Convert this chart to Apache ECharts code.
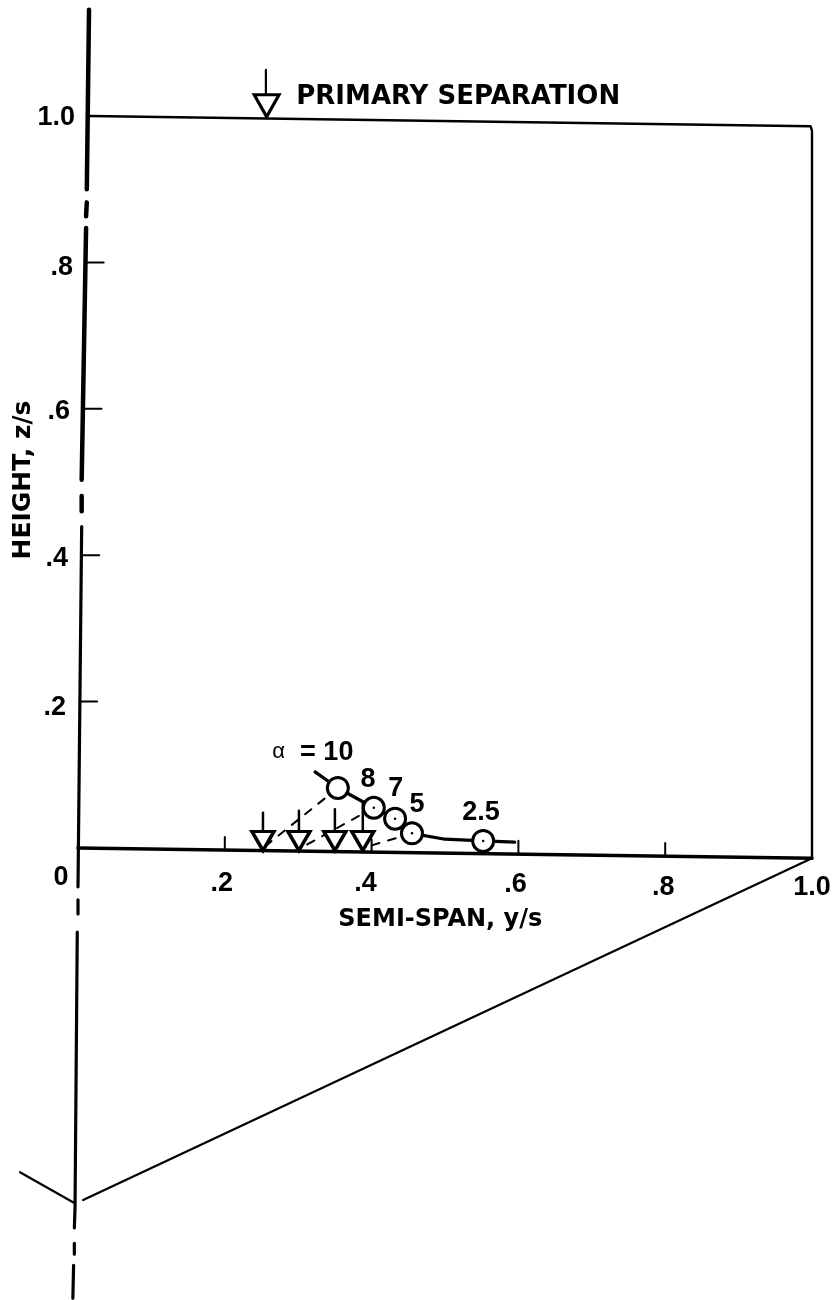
<!DOCTYPE html>
<html><head><meta charset="utf-8">
<script src="https://cdn.jsdelivr.net/npm/echarts@6/dist/echarts.min.js"></script>
<style>html,body{margin:0;background:#fff}#c{width:834px;height:1300px}</style></head>
<body><div id="c"></div>
<script>
// Values (semi-span y/s, height z/s)
var xTickValues = [0, .2, .4, .6, .8, 1];
var yTickValues = [.2, .4, .6, .8, 1];
var alphaNames = ['10', '8', '7', '5', '2.5'];
var circleSpan = [.354, .403, .432, .455, .552];
var circleHeight = [.082, .055, .040, .020, .0096];
var secondarySpan = [.252, .301, .350, .388];
var secondaryHeight = [.0096, .0096, .0096, .0096];
var secondaryStemTop = [.048, .051, .053, .061];
var primarySpan = [.257];
var primaryHeight = [1.014];

var solidCurve = [[.323,.104],[.354,.082],[.403,.055],[.432,.040],[.455,.020],[.50,.012],[.552,.0096],[.595,.008]];
var dashedLinks = [[.354,.082],[.252,.0],null,[.403,.055],[.30,-.002],null,[.455,.020],[.388,.0]];
var spineHeavy = [[.015,1.145],[.012,.900],null,[.012,.882],[.011,.863],null,[.011,.847],[.005,.503],null,[.005,.481],[.005,.460]];
var spineMedium = [[.005,.439],[0,-.053],null,[0,-.071],[0,-.090],null,[-.001,-.115],[-.004,-.485],[-.004,-.490],[-.005,-.519],null,[-.005,-.540],[-.005,-.555],null,[-.006,-.570],[-.007,-.615]];
var baseLine = [[0,0],[1,-.014]];
var frameLine = [[.016,1.0],[.998,.986],[1,.98],[1,-.014]];
var planformLine = [[1,-.014],[.007,-.481],null,[-.079,-.443],[-.005,-.485]];
var yTickRoots = [.002,.005,.008,.011];   // spine position at .2 .4 .6 .8
var xTickRoots = [-.003,-.006,-.008,-.011]; // base line height at .2 .4 .6 .8

var noteTexts = ['{p|PRIMARY SEPARATION}','{a|\u03b1} {t| = 10}','8','7','5','2.5'];
var noteSpan = [.518,.320,.395,.433,.462,.549];
var noteHeight = [1.026,.131,.094,.081,.059,.049];

var FONT = '"Liberation Sans", Arial, sans-serif';
var WIDE = '"DejaVu Sans", sans-serif';
var BLACK = '#000';

function join(a, b){ return a.map(function(v,i){ return [v, b[i]]; }); }
function lineData(list){ return list.map(function(p){ return p ? p : ['-','-']; }); }
function lineSeries(name, list, width, extra){
  var s = {name:name, type:'line', data:lineData(list), symbol:'none', silent:true, animation:false,
    connectNulls:false, lineStyle:{color:BLACK, width:width, cap:'round', join:'round'}, z:2};
  if (extra) for (var k in extra) { if (k==='dash') s.lineStyle.type = extra[k]; else s[k]=extra[k]; }
  return s;
}
var yTickSegs = [], xTickSegs = [], stemSegs = [];
yTickValues.slice(0,4).forEach(function(v,i){
  if (i) yTickSegs.push(null);
  yTickSegs.push([yTickRoots[i],v],[yTickRoots[i]+.024,v]);
});
xTickValues.slice(1,5).forEach(function(v,i){
  if (i) xTickSegs.push(null);
  xTickSegs.push([v,xTickRoots[i]],[v,xTickRoots[i]+.018]);
});
secondarySpan.forEach(function(v,i){
  if (i) stemSegs.push(null);
  stemSegs.push([v,secondaryStemTop[i]],[v,.022]);
});
var primaryStem = [[.256,1.063],[.256,1.029]];

var xRich = {
  x0:{padding:[0,34,0,0]}, x2:{padding:[6,6,0,0]}, x4:{padding:[6,12,0,0]},
  x6:{padding:[7,6,0,0]}, x8:{padding:[10,4,0,0]}, x10:{padding:[10,0,0,0]}
};
var yRich = { y2:{padding:[12,9,0,0]}, y4:{padding:[6,7,0,0]}, y6:{padding:[5,5,0,0]}, y8:{padding:[10,2,0,0]}, y10:{padding:[4,0,0,0]} };
function tickText(v){ return v===0 ? '0' : v===1 ? '1.0' : String(v).replace('0.','.'); }
var HIDDEN_LINE = {show:false, onZero:false};

var chart = echarts.init(document.getElementById('c'), null, {renderer:'canvas'});
chart.setOption({
  animation:false,
  backgroundColor:'#fff',
  grid:{left:4.6, right:22, top:6.2, bottom:-1.84, containLabel:false, outerBoundsMode:'none'},
  xAxis:{type:'value', position:'bottom', offset:-453.84, min:-.1, max:1, splitLine:{show:false}, axisLine:HIDDEN_LINE, axisTick:{show:false},
    name:'SEMI-SPAN, y/s', nameLocation:'middle', nameGap:60, nameMoveOverlap:false,
    nameTextStyle:{fontFamily:WIDE, fontWeight:'bold', fontSize:24, color:BLACK, padding:[0,0,0,64]},
    axisLabel:{customValues:xTickValues, margin:16, fontFamily:FONT, fontWeight:'bold', fontSize:27, color:BLACK, hideOverlap:false, rich:xRich,
      formatter:function(v){ return '{x'+Math.round(v*10)+'|'+tickText(v)+'}'; }}},
  yAxis:{type:'value', position:'left', offset:-73.4, min:-.62, max:1.15, splitLine:{show:false}, axisLine:HIDDEN_LINE, axisTick:{show:false},
    name:'HEIGHT, z/s', nameLocation:'middle', nameGap:42, nameRotate:90, nameMoveOverlap:false,
    nameTextStyle:{fontFamily:WIDE, fontWeight:'bold', fontSize:25, color:BLACK, padding:[0,0,0,348]},
    axisLabel:{customValues:yTickValues, margin:3, fontFamily:FONT, fontWeight:'bold', fontSize:27, color:BLACK, rich:yRich,
      formatter:function(v){ return '{y'+Math.round(v*10)+'|'+tickText(v)+'}'; }}},
  series:[
    lineSeries('spine upper', spineHeavy, 4.5),
    lineSeries('spine lower', spineMedium, 3.2),
    lineSeries('span line', baseLine, 3.6),
    lineSeries('frame', frameLine, 2.4),
    lineSeries('planform', planformLine, 2.2),
    lineSeries('y ticks', yTickSegs, 2),
    lineSeries('x ticks', xTickSegs, 2),
    lineSeries('links', dashedLinks, 2, {dash:[8,9]}),
    lineSeries('stems', stemSegs, 2.5, {z:3}),
    lineSeries('primary stem', primaryStem, 2.2, {z:3}),
    lineSeries('vortex curve', solidCurve, 3.2, {z:3}),
    {name:'secondary', type:'scatter', data:join(secondarySpan, secondaryHeight), symbol:'triangle', symbolRotate:180, symbolSize:[22,19],
      itemStyle:{color:'#fff', borderColor:BLACK, borderWidth:3.4, opacity:1}, z:4, silent:true},
    {name:'primary', type:'scatter', data:join(primarySpan, primaryHeight), symbol:'triangle', symbolRotate:180, symbolSize:[25,22],
      itemStyle:{color:'#fff', borderColor:BLACK, borderWidth:3, opacity:1}, z:4, silent:true},
    {name:'vortex', type:'scatter', data:join(circleSpan, circleHeight), symbol:'circle', symbolSize:21,
      itemStyle:{color:'#fff', borderColor:BLACK, borderWidth:3, opacity:1}, z:5, silent:true},
    {name:'vortex centre', type:'scatter', data:join(circleSpan.slice(1), circleHeight.slice(1)), symbol:'circle', symbolSize:2.5,
      itemStyle:{color:BLACK, opacity:1}, z:6, silent:true},
    {name:'notes', type:'scatter', data:join(noteSpan, noteHeight).map(function(p,i){ return {value:p, text:noteTexts[i]}; }), symbolSize:0, z:7, silent:true,
      itemStyle:{opacity:1},
      label:{show:true, position:'inside', color:BLACK, opacity:1, fontFamily:FONT, fontWeight:'bold', fontSize:27,
        rich:{a:{fontFamily:FONT, fontWeight:'normal', fontSize:22, color:BLACK},
              t:{fontFamily:FONT, fontWeight:'bold', fontSize:27, color:BLACK},
              p:{fontFamily:WIDE, fontWeight:'bold', fontSize:26, color:BLACK}},
        formatter:function(p){ return p.data.text; }}}
  ]
});
</script></body></html>
